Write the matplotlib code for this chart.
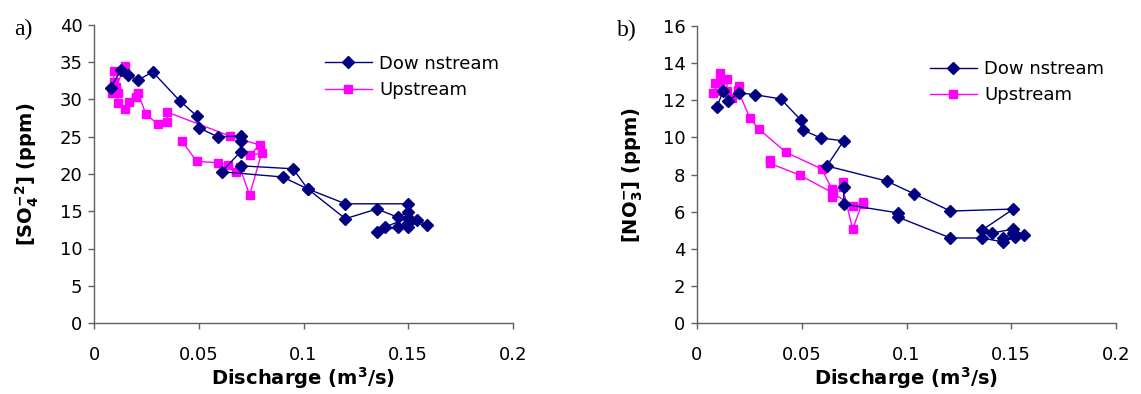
import matplotlib
matplotlib.use("Agg")
import matplotlib.pyplot as plt

plt.rcParams['font.family'] = ['DejaVu Sans']
plt.rcParams['mathtext.fontset'] = 'dejavusans'

# ---- a) sulfate vs discharge ----
so4_down_q = [0.008, 0.013, 0.016, 0.021, 0.028, 0.041, 0.049, 0.050, 0.059, 0.070,
              0.070, 0.070, 0.061, 0.090, 0.102, 0.120, 0.135, 0.145, 0.150, 0.154,
              0.159, 0.150, 0.145, 0.135, 0.139, 0.150, 0.150, 0.150, 0.120, 0.102,
              0.095, 0.070]
so4_down = [31.6, 34.0, 33.3, 32.6, 33.7, 29.8, 27.8, 26.2, 25.0, 25.1,
            24.4, 23.0, 20.3, 19.6, 18.0, 14.0, 15.3, 14.2, 14.9, 13.8,
            13.2, 13.4, 12.9, 12.2, 12.9, 14.1, 12.9, 16.0, 16.0, 18.0,
            20.7, 21.1]

so4_up_q = [0.0095, 0.0095, 0.0148, 0.0105, 0.0086, 0.0114, 0.0114, 0.0148, 0.0167, 0.020,
            0.021, 0.0248, 0.0305, 0.035, 0.035, 0.0648, 0.079, 0.0743, 0.080, 0.0743,
            0.0695, 0.0676, 0.064, 0.059, 0.049, 0.042]
so4_up = [32.3, 33.8, 34.5, 31.7, 30.9, 30.9, 29.5, 28.7, 29.7, 30.3,
          30.9, 28.0, 26.7, 27.0, 28.3, 25.1, 23.9, 22.5, 22.8, 17.2,
          20.9, 20.3, 21.2, 21.5, 21.7, 24.4]

# ---- b) nitrate vs discharge ----
no3_down_q = [0.0095, 0.0125, 0.0148, 0.020, 0.0276, 0.040, 0.0495, 0.0505, 0.059, 0.070,
              0.062, 0.0905, 0.1038, 0.121, 0.151, 0.136, 0.141, 0.151, 0.156, 0.151,
              0.146, 0.152, 0.146, 0.136, 0.121, 0.096, 0.096, 0.070, 0.070]
no3_down = [11.64, 12.5, 11.96, 12.4, 12.3, 12.07, 10.94, 10.4, 9.97, 9.81,
            8.46, 7.65, 6.95, 6.03, 6.14, 5.0, 4.85, 5.06, 4.74, 4.85,
            4.58, 4.63, 4.37, 4.58, 4.58, 5.7, 5.93, 6.4, 7.3]

no3_up_q = [0.0086, 0.011, 0.011, 0.0076, 0.012, 0.0143, 0.0143, 0.0167, 0.020, 0.0195,
            0.0252, 0.0295, 0.0424, 0.0595, 0.0645, 0.0645, 0.0695, 0.0695, 0.0743, 0.079,
            0.079, 0.0743, 0.065, 0.049, 0.0348, 0.0348]
no3_up = [12.93, 13.47, 13.0, 12.4, 12.5, 13.15, 12.5, 12.1, 12.77, 12.55,
          11.05, 10.45, 9.2, 8.3, 7.2, 6.8, 7.6, 7.3, 5.06, 6.5,
          6.4, 6.3, 7.0, 7.97, 8.6, 8.78]

x_ticks = [0, 0.05, 0.1, 0.15, 0.2]
x_labels = ['0', '0.05', '0.1', '0.15', '0.2']

DOWN_C = '#000080'
UP_C = '#FF00FF'
SPINE_C = '#606060'

W, H = 1141, 394
fig = plt.figure(figsize=(W / 100, H / 100), dpi=100)


def px_axes(x0, x1, y_top, y_bot):
    return fig.add_axes([x0 / W, 1 - y_bot / H, (x1 - x0) / W, (y_bot - y_top) / H])


def style(ax, ymax, ystep, ylabel, tag, leg_anchor):
    ax.set_xlim(0, 0.2)
    ax.set_ylim(0, ymax)
    ax.set_xticks(x_ticks)
    ax.set_xticklabels(x_labels)
    ax.set_yticks(range(0, ymax + 1, ystep))
    for s in ('top', 'right'):
        ax.spines[s].set_visible(False)
    for s in ('left', 'bottom'):
        ax.spines[s].set_color(SPINE_C)
        ax.spines[s].set_linewidth(1.0)
    ax.tick_params(axis='both', direction='out', length=4.3, width=1.0,
                   color=SPINE_C, labelsize=13)
    ax.tick_params(axis='x', pad=12)
    ax.tick_params(axis='y', pad=4)
    ax.set_xlabel(r'Discharge (m$^\mathbf{3}$/s)', fontsize=14, fontweight='bold',
                  labelpad=1)
    ax.set_ylabel(ylabel, fontsize=14, fontweight='bold', labelpad=13)
    ax.text(-0.19, 0.985, tag, transform=ax.transAxes, fontsize=17,
            family='Liberation Serif', ha='left', va='center')
    ax.legend(loc='upper left', bbox_to_anchor=leg_anchor, frameon=False,
              fontsize=13, handlelength=2.6, handletextpad=0.4,
              labelspacing=0.45, borderpad=0, borderaxespad=0)


ax_a = px_axes(94, 513, 25, 323)
ax_a.plot(so4_down_q, so4_down, color=DOWN_C, lw=1.0, marker='D', ms=6.5,
          label='Dow nstream', zorder=3)
ax_a.plot(so4_up_q, so4_up, color=UP_C, lw=1.0, marker='s', ms=6,
          label='Upstream', zorder=2)
style(ax_a, 40, 5, r'[SO$_\mathbf{4}^\mathbf{-2}$] (ppm)', 'a)', (0.551, 0.90))

ax_b = px_axes(697, 1116, 26, 323)
ax_b.plot(no3_down_q, no3_down, color=DOWN_C, lw=1.0, marker='D', ms=6.5,
          label='Dow nstream', zorder=3)
ax_b.plot(no3_up_q, no3_up, color=UP_C, lw=1.0, marker='s', ms=6,
          label='Upstream', zorder=2)
style(ax_b, 16, 2, r'[NO$_\mathbf{3}^\mathbf{-}$] (ppm)', 'b)', (0.556, 0.885))

fig.savefig('out.png', dpi=100)
